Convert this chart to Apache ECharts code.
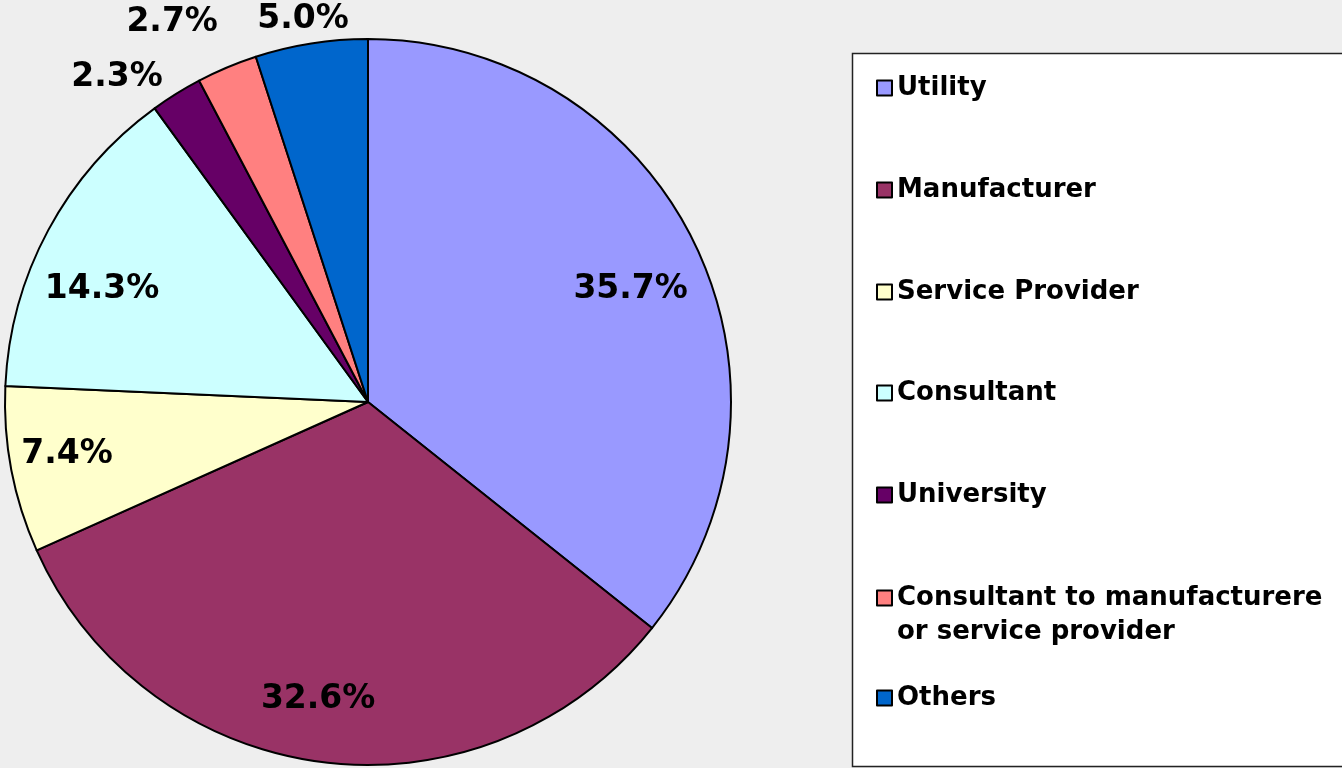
<!DOCTYPE html>
<html>
<head>
<meta charset="utf-8">
<title>Respondents by organisation type</title>
<script src="https://cdn.jsdelivr.net/npm/echarts@6/dist/echarts.min.js"></script>
<style>
  * { margin: 0; padding: 0; }
  html, body { width: 100%; height: 100%; background: #eeeeee; overflow: hidden; }
  #chart { width: 1342px; height: 768px; }
</style>
</head>
<body>
<div id="chart"></div>
<script>
// data (percent of respondents)
const categories = [
  'Utility',
  'Manufacturer',
  'Service Provider',
  'Consultant',
  'University',
  'Consultant to manufacturere or service provider',
  'Others'
]
const shares = [35.7, 32.6, 7.4, 14.3, 2.3, 2.7, 5.0]

// look
const sliceColors = ['#9999ff', '#993366', '#ffffcc', '#ccffff', '#660066', '#ff8080', '#0066cc']
const outsideLabel = [false, false, false, false, true, true, true]
const labelNudge = [[5, 12], [-14, 14], [-20, -1], [-14, 23], [-42, 12], [-42, -15], [-3, 9]]
const legendRowY = [88, 190, 292, 393, 495, 598, 698]

const pieCenter = [368, 402]
const pieRadius = 363
const font = 'DejaVu Sans'

const chart = echarts.init(document.getElementById('chart'))

const sliceData = categories.map((name, i) => ({
  name: name,
  value: shares[i],
  itemStyle: { color: sliceColors[i] }
}))

// transparent helper rings only carry the percentage labels
function labelRing(radius, outside) {
  return {
    type: 'pie',
    radius: radius,
    center: pieCenter,
    startAngle: 90,
    silent: true,
    animation: false,
    itemStyle: { color: 'transparent', borderWidth: 0 },
    emphasis: { disabled: true },
    labelLine: { show: false },
    data: categories.map((name, i) => ({
      name: name,
      value: shares[i],
      label: {
        show: outsideLabel[i] === outside,
        position: 'inside',
        formatter: shares[i].toFixed(1) + '%',
        fontFamily: font,
        fontWeight: 'bold',
        fontSize: 33,
        color: '#000',
        offset: labelNudge[i]
      }
    }))
  }
}

// one legend per row so the rows sit where the original has them;
// the long name wraps, a blank first line keeps the swatch on its first line
const legends = categories.map((name, i) => {
  const wraps = name.indexOf(' or ') > 0
  return {
    data: [name],
    orient: 'vertical',
    left: 876,
    top: wraps ? legendRowY[i] - 51 : legendRowY[i] - 17,
    padding: 0,
    itemWidth: 15,
    itemHeight: 15,
    icon: 'rect',
    selectedMode: false,
    formatter: n => wraps ? '\n' + n.replace(' or ', '\nor ') : n,
    textStyle: {
      fontFamily: font,
      fontWeight: 'bold',
      fontSize: 26,
      lineHeight: 34,
      color: '#000'
    }
  }
})

chart.setOption({
  backgroundColor: '#eeeeee',
  animation: false,
  graphic: [{
    type: 'rect',
    shape: { x: 852.5, y: 53.5, width: 520, height: 713 },
    style: { fill: '#ffffff', stroke: '#222222', lineWidth: 1.5 },
    z: -10
  }],
  legend: legends,
  series: [
    {
      type: 'pie',
      radius: pieRadius,
      center: pieCenter,
      startAngle: 90,
      clockwise: true,
      animation: false,
      itemStyle: { borderColor: '#000', borderWidth: 2 },
      label: { show: false },
      labelLine: { show: false },
      emphasis: { scale: false },
      data: sliceData
    },
    labelRing([203, pieRadius], false),
    labelRing([pieRadius, pieRadius + 60], true)
  ]
})
</script>
</body>
</html>
